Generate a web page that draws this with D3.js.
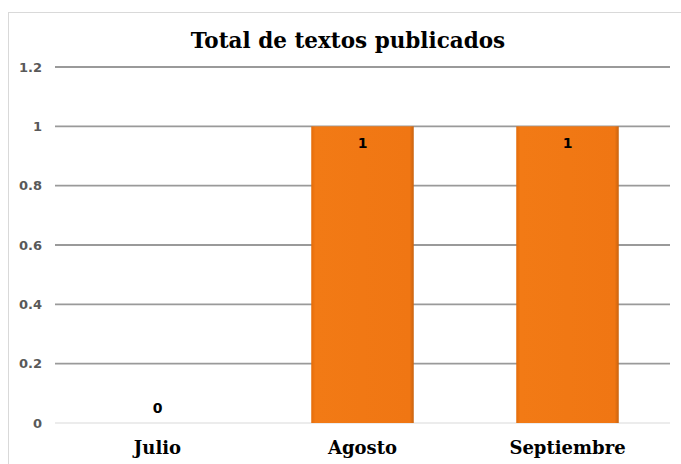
<!DOCTYPE html>
<html>
<head>
<meta charset="utf-8">
<script src="https://cdn.jsdelivr.net/npm/d3@7"></script>
<style>
  body { margin: 0; background: #fff; }
</style>
</head>
<body>
<script>
// data
var categories = ['Julio', 'Agosto', 'Septiembre'];
var values = [0, 1, 1];
var ticks = [0, 0.2, 0.4, 0.6, 0.8, 1, 1.2];

var W = 681, H = 464;
var margin = {left: 55, right: 11, top: 67, bottom: 41};

var svg = d3.select('body').append('svg')
    .attr('width', W).attr('height', H);

// chart frame
svg.append('rect')
    .attr('x', 8.5).attr('y', 12.5)
    .attr('width', W).attr('height', H)
    .attr('fill', 'none').attr('stroke', '#d9d9d9');

var x = d3.scaleBand().domain(categories)
    .range([margin.left, W - margin.right])
    .paddingInner(0.5).paddingOuter(0.25);
var y = d3.scaleLinear().domain([0, 1.2])
    .range([H - margin.bottom, margin.top]);

// bar shading
var defs = svg.append('defs');
var grad = defs.append('linearGradient').attr('id', 'barGrad')
    .attr('x1', 0).attr('x2', 1).attr('y1', 0).attr('y2', 0);
grad.append('stop').attr('offset', '0%').attr('stop-color', '#e46c0a');
grad.append('stop').attr('offset', '4%').attr('stop-color', '#f27a15');
grad.append('stop').attr('offset', '96%').attr('stop-color', '#f07613');
grad.append('stop').attr('offset', '100%').attr('stop-color', '#c9630f');

// gridlines
svg.append('g').selectAll('line').data(ticks).enter().append('line')
    .attr('x1', margin.left).attr('x2', W - margin.right)
    .attr('y1', function(d){ return y(d); })
    .attr('y2', function(d){ return y(d); })
    .attr('stroke', function(d){ return d === 0 ? '#d9d9d9' : '#9a9a9a'; })
    .attr('stroke-width', function(d){ return d === 0 ? 1 : 1.8; });

// y tick labels
svg.append('g').selectAll('text').data(ticks).enter().append('text')
    .attr('x', 42)
    .attr('y', function(d){ return y(d); })
    .attr('dy', '0.35em')
    .attr('text-anchor', 'end')
    .attr('font-family', 'DejaVu Sans, Verdana, sans-serif')
    .attr('font-weight', 'bold')
    .attr('font-size', 13)
    .attr('fill', '#595959')
    .text(function(d){ return d; });

// bars
svg.append('g').selectAll('rect').data(values).enter().append('rect')
    .attr('x', function(d, i){ return x(categories[i]); })
    .attr('y', function(d){ return y(d); })
    .attr('width', x.bandwidth())
    .attr('height', function(d){ return y(0) - y(d); })
    .attr('fill', 'url(#barGrad)');

// data labels
svg.append('g').selectAll('text').data(values).enter().append('text')
    .attr('x', function(d, i){ return x(categories[i]) + x.bandwidth() / 2; })
    .attr('y', function(d){ return d > 0 ? y(d) + 22 : y(d) - 10; })
    .attr('text-anchor', 'middle')
    .attr('font-family', 'DejaVu Sans, Verdana, sans-serif')
    .attr('font-weight', 'bold')
    .attr('font-size', 14)
    .attr('fill', '#000')
    .text(function(d){ return d; });

// category labels
svg.append('g').selectAll('text').data(categories).enter().append('text')
    .attr('x', function(d){ return x(d) + x.bandwidth() / 2; })
    .attr('y', 454)
    .attr('text-anchor', 'middle')
    .attr('font-family', 'DejaVu Serif, serif')
    .attr('font-weight', 'bold')
    .attr('font-size', 18)
    .attr('fill', '#000')
    .text(function(d){ return d; });

// title
svg.append('text')
    .attr('x', 348).attr('y', 48)
    .attr('text-anchor', 'middle')
    .attr('font-family', 'DejaVu Serif, serif')
    .attr('font-weight', 'bold')
    .attr('font-size', 21.5)
    .attr('fill', '#000')
    .text('Total de textos publicados');
</script>
</body>
</html>
